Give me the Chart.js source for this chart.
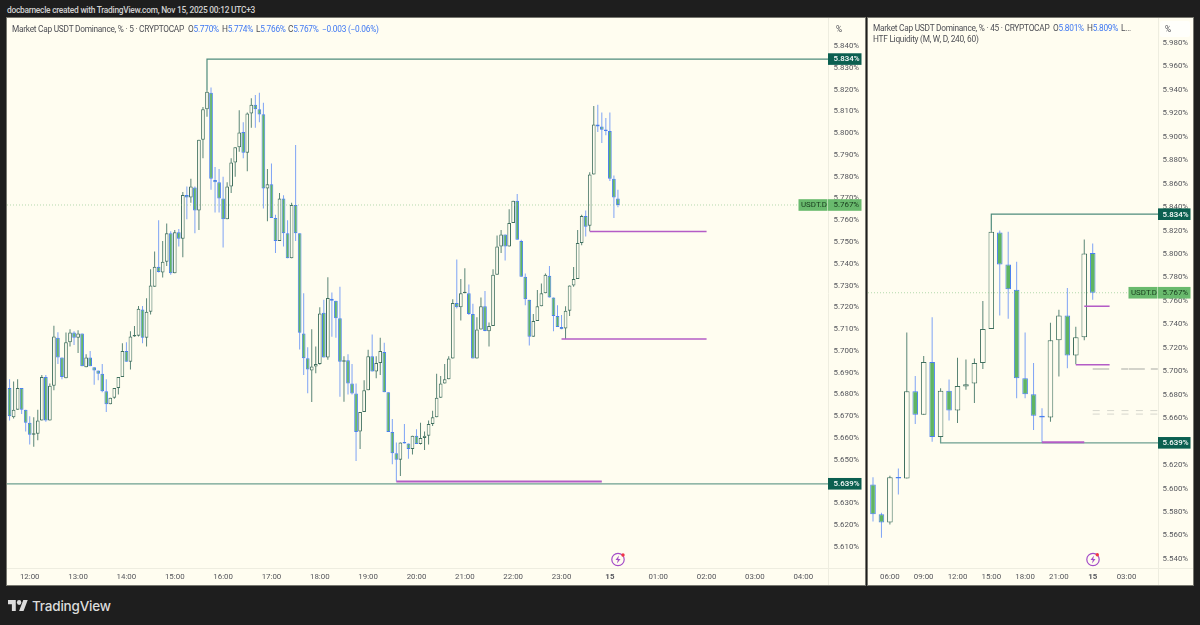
<!DOCTYPE html>
<html><head><meta charset="utf-8">
<script src="https://cdn.jsdelivr.net/npm/chart.js@4"></script>
<style>
html,body{margin:0;padding:0;background:#1e1e1e;width:1200px;height:625px;overflow:hidden}
.t{position:absolute;white-space:nowrap;font-family:Roboto,sans-serif;line-height:12px}
.panel{position:absolute;background:#fffdf0;box-shadow:0 0 0 1px #77776f}
canvas{position:absolute;left:0;top:0}
.leg{font-size:8.3px;color:#4e4f55;letter-spacing:-.25px}
.b{color:#3f78f2}
.ic{position:absolute;width:16px;height:16px}
</style></head><body>
<div class="t" style="left:7px;top:3.5px;color:#d2d2d2;font-size:8.4px;font-weight:500;letter-spacing:-.26px">docbarnecle created with TradingView.com, Nov 15, 2025 00:12 UTC+3</div>
<div class="panel" style="left:7px;top:18px;width:858px;height:567px"><canvas id="c1" width="858" height="567"></canvas></div>
<div class="panel" style="left:868px;top:18px;width:325px;height:567px"><canvas id="c2" width="325" height="567"></canvas></div>

<div class="t leg" style="left:12px;top:22.5px">Market Cap USDT Dominance, % · 5 · CRYPTOCAP</div>
<div class="t leg" style="left:188px;top:22.5px">O<span class="b">5.770%</span></div>
<div class="t leg" style="left:222px;top:22.5px">H<span class="b">5.774%</span></div>
<div class="t leg" style="left:256px;top:22.5px">L<span class="b">5.766%</span></div>
<div class="t leg" style="left:288px;top:22.5px">C<span class="b">5.767%</span></div>
<div class="t leg" style="left:322px;top:22.5px"><span class="b">−0.003 (−0.06%)</span></div>
<div class="t leg" style="left:873px;top:21.5px">Market Cap USDT Dominance, % · 45 · CRYPTOCAP</div>
<div class="t leg" style="left:1053px;top:21.5px">O<span class="b">5.801%</span></div>
<div class="t leg" style="left:1087px;top:21.5px">H<span class="b">5.809%</span></div>
<div class="t leg" style="left:1121px;top:21.5px">L...</div>
<div class="t leg" style="left:873px;top:32.5px">HTF Liquidity (M, W, D, 240, 60)</div>
<div class="t leg" style="left:836px;top:23px">%</div>
<div style="position:absolute;left:1160px;top:21px;width:30px;height:16px;background:#fffffb;border-radius:2px"></div>
<div class="t leg" style="left:1165px;top:23px">%</div>

<svg class="ic" style="left:610px;top:551px" viewBox="0 0 16 16"><circle cx="8" cy="8.5" r="6.2" fill="none" stroke="#a44cc8" stroke-width="1.2"/><path d="M9 4.5 5.5 9h2.3L7 12.5 10.5 8H8.2z" fill="#a44cc8"/><circle cx="13" cy="4" r="1.7" fill="#f23645"/></svg>
<svg class="ic" style="left:1085px;top:551px" viewBox="0 0 16 16"><circle cx="8" cy="8.5" r="6.2" fill="none" stroke="#a44cc8" stroke-width="1.2"/><path d="M9 4.5 5.5 9h2.3L7 12.5 10.5 8H8.2z" fill="#a44cc8"/><circle cx="12.3" cy="3.8" r="1.7" fill="#f23645"/></svg>

<svg style="position:absolute;left:7.5px;top:600px;width:20px;height:11px" viewBox="0 4 36 18" preserveAspectRatio="none"><path fill="#dcdcdc" d="M14 22H7V11H0V4h14v18zM28 22h-8l7.5-18h8L28 22z"/><circle fill="#dcdcdc" cx="20" cy="8" r="4"/></svg>
<div class="t" style="left:32px;top:599px;color:#dcdcdc;font:500 13.5px/14px Inter,sans-serif;letter-spacing:-.2px">TradingView</div>

<script>
// 5-minute candles, 11:35 through 00:10
const open5=[5.683,5.6695,5.673,5.683,5.673,5.667,5.6615,5.662,5.668,5.688,
5.668,5.684,5.706,5.697,5.6875,5.704,5.7085,5.706,5.708,5.6925,
5.697,5.6925,5.691,5.6895,5.6815,5.6755,5.6785,5.683,5.688,5.700,
5.695,5.7066,5.707,5.719,5.706,5.718,5.7295,5.7387,5.736,5.741,
5.754,5.7357,5.7545,5.7515,5.7716,5.7705,5.775,5.7645,5.797,5.811,
5.8185,5.7785,5.7775,5.770,5.7605,5.7755,5.7865,5.7935,5.8005,5.791,
5.809,5.813,5.811,5.8087,5.7746,5.7765,5.761,5.7505,5.770,5.754,
5.7425,5.767,5.754,5.708,5.6966,5.691,5.6928,5.694,5.7175,5.697,
5.724,5.723,5.715,5.695,5.6957,5.685,5.6805,5.663,5.672,5.682,
5.6975,5.6905,5.6945,5.6995,5.681,5.6628,5.653,5.650,5.658,5.6575,
5.655,5.661,5.6573,5.660,5.661,5.6665,5.6695,5.6785,5.685,5.687,
5.6965,5.722,5.720,5.7265,5.7265,5.717,5.6965,5.7098,5.7205,5.709,
5.7115,5.735,5.748,5.7535,5.748,5.7587,5.769,5.7505,5.734,5.7235,
5.7065,5.7137,5.7205,5.7265,5.7345,5.7245,5.716,5.711,5.7103,5.7185,
5.730,5.733,5.7495,5.762,5.7575,5.781,5.804,5.803,5.8015,5.801,
5.779,5.770];
const high5=[5.687,5.686,5.687,5.683,5.673,5.670,5.6695,5.673,5.689,5.689,
5.685,5.7116,5.7086,5.697,5.7085,5.710,5.709,5.7095,5.708,5.6985,
5.700,5.6925,5.691,5.694,5.687,5.6785,5.683,5.688,5.7035,5.704,
5.709,5.7115,5.7206,5.7206,5.7242,5.7375,5.7456,5.760,5.7505,5.7585,
5.755,5.7555,5.756,5.773,5.7755,5.779,5.7755,5.797,5.812,5.8195,
5.821,5.7845,5.7835,5.780,5.7775,5.7885,5.7935,5.8105,5.805,5.8095,
5.816,5.8175,5.8185,5.814,5.7835,5.786,5.7625,5.7725,5.7715,5.760,
5.768,5.7945,5.754,5.7265,5.7017,5.710,5.702,5.720,5.7235,5.7338,
5.7268,5.723,5.7295,5.6975,5.6985,5.694,5.685,5.672,5.6865,5.7005,
5.7075,5.6975,5.706,5.7037,5.681,5.6688,5.658,5.658,5.6665,5.6575,
5.661,5.664,5.667,5.663,5.668,5.6725,5.6895,5.6885,5.694,5.6975,
5.7237,5.742,5.733,5.738,5.7305,5.7217,5.7155,5.7245,5.7275,5.713,
5.7375,5.753,5.7555,5.7535,5.765,5.769,5.772,5.751,5.7355,5.7235,
5.717,5.728,5.731,5.7355,5.739,5.7245,5.721,5.7165,5.7205,5.730,
5.7385,5.7555,5.7625,5.7645,5.782,5.8125,5.813,5.8095,5.807,5.8095,
5.7805,5.774];
const low5=[5.668,5.669,5.673,5.671,5.663,5.657,5.656,5.659,5.668,5.6675,
5.668,5.682,5.694,5.687,5.6875,5.702,5.7027,5.699,5.693,5.6925,
5.693,5.6845,5.6865,5.681,5.672,5.6755,5.678,5.680,5.688,5.695,
5.6915,5.7065,5.7066,5.7035,5.702,5.7167,5.7295,5.736,5.7337,5.739,
5.735,5.7357,5.748,5.743,5.7605,5.768,5.754,5.7555,5.7885,5.8075,
5.774,5.7635,5.7635,5.7475,5.7605,5.7725,5.780,5.7915,5.7885,5.7825,
5.8025,5.8025,5.805,5.7654,5.7595,5.761,5.745,5.7505,5.748,5.7425,
5.7425,5.7505,5.7007,5.689,5.6806,5.6765,5.6897,5.6937,5.697,5.696,
5.7065,5.706,5.679,5.6767,5.680,5.680,5.6495,5.655,5.672,5.682,
5.6905,5.6875,5.689,5.681,5.6628,5.648,5.640,5.6426,5.6575,5.6505,
5.6525,5.6573,5.657,5.6545,5.657,5.6655,5.6695,5.6785,5.685,5.687,
5.6965,5.7195,5.714,5.7265,5.7165,5.6965,5.6965,5.7098,5.709,5.702,
5.7115,5.735,5.745,5.7415,5.748,5.7587,5.751,5.734,5.721,5.7025,
5.7065,5.7137,5.7205,5.7265,5.7245,5.709,5.711,5.710,5.7055,5.716,
5.7295,5.733,5.7485,5.7525,5.755,5.781,5.8005,5.7955,5.799,5.778,
5.761,5.766];
const close5=[5.670,5.673,5.683,5.673,5.667,5.6615,5.662,5.668,5.688,5.668,
5.684,5.7066,5.697,5.688,5.704,5.7085,5.706,5.708,5.693,5.697,
5.693,5.691,5.6895,5.6815,5.6755,5.6785,5.683,5.688,5.700,5.695,
5.7066,5.707,5.7194,5.706,5.718,5.730,5.7387,5.7362,5.741,5.754,
5.7357,5.7545,5.7515,5.7716,5.7705,5.7755,5.7645,5.797,5.811,5.819,
5.779,5.7775,5.770,5.7605,5.7755,5.7865,5.7935,5.8003,5.791,5.809,
5.813,5.811,5.8085,5.7746,5.7765,5.761,5.7505,5.770,5.754,5.7425,
5.767,5.754,5.7083,5.6966,5.6915,5.6928,5.694,5.7172,5.697,5.7243,
5.723,5.715,5.695,5.6957,5.685,5.6805,5.6628,5.672,5.682,5.6975,
5.6905,5.6945,5.700,5.681,5.6628,5.653,5.650,5.658,5.6575,5.655,
5.661,5.6573,5.660,5.661,5.6665,5.6695,5.6785,5.685,5.687,5.6965,
5.722,5.720,5.7265,5.7268,5.717,5.6965,5.7098,5.7205,5.7092,5.7115,
5.735,5.748,5.7535,5.748,5.7587,5.769,5.751,5.734,5.7237,5.7065,
5.7137,5.7205,5.7265,5.735,5.7245,5.716,5.711,5.710,5.7185,5.730,
5.733,5.7495,5.762,5.757,5.781,5.804,5.803,5.8015,5.801,5.779,
5.7705,5.767];
// 45-minute candles, 04:30 through 00:00
const open45=[5.6034,5.578,5.571,5.6095,5.6085,5.683,5.663,5.708,5.644,5.6835,5.6665,5.687,5.6895,5.707,5.736,5.8183,5.791,5.7695,5.694,5.6805,5.662,5.6605,5.7265,5.7475,5.7135,5.729,5.801];
const high45=[5.6097,5.5793,5.611,5.617,5.733,5.696,5.713,5.746,5.6855,5.693,5.7115,5.71,5.711,5.76,5.8205,5.82,5.819,5.7935,5.733,5.707,5.6685,5.7415,5.7525,5.771,5.738,5.8125,5.809];
const low45=[5.572,5.558,5.5693,5.595,5.6085,5.655,5.663,5.64,5.644,5.658,5.656,5.6843,5.673,5.702,5.736,5.7475,5.7448,5.677,5.677,5.65,5.639,5.657,5.6955,5.7025,5.706,5.7265,5.761];
const close45=[5.5781,5.571,5.6097,5.6085,5.683,5.663,5.708,5.644,5.6835,5.6665,5.6875,5.689,5.707,5.736,5.819,5.791,5.77,5.694,5.6805,5.662,5.6605,5.7265,5.7475,5.7135,5.729,5.8005,5.767];
// axis ticks: minutes from 00:00 Nov 15, and labels
const hourTicks5=[-720,-660,-600,-540,-480,-420,-360,-300,-240,-180,-120,-60,0,60,120,180,240];
const hourLabels5=["12:00","13:00","14:00","15:00","16:00","17:00","18:00","19:00","20:00","21:00","22:00","23:00","15","01:00","02:00","03:00","04:00"];
const hourTicks45=[-1080,-900,-720,-540,-360,-180,0,180];
const hourLabels45=["06:00","09:00","12:00","15:00","18:00","21:00","15","03:00"];
const priceTicks5=[5.61,5.62,5.63,5.64,5.65,5.66,5.67,5.68,5.69,5.70,5.71,5.72,5.73,5.74,5.75,5.76,5.77,5.78,5.79,5.80,5.81,5.82,5.83,5.84];
const priceTicks45=[5.54,5.56,5.58,5.60,5.62,5.64,5.66,5.68,5.70,5.72,5.74,5.76,5.78,5.80,5.82,5.84,5.86,5.88,5.90,5.92,5.94,5.96,5.98];
// levels
const lastPrice=5.767, highLevel=5.834, lowLevel=5.639;

const UP_EDGE='#41705f',UP_FILL='#fffdf0',UP_WICK='#5a8576',DN_EDGE='#4a80ee',DN_FILL='#5fb562',DN_WICK='#7ea3f5',AXIS='#eeede0';
const FONT='Roboto, sans-serif';

function panel(id,o){
  const xs=o.open.map((_,i)=>o.first+i*o.step);
  const up=i=>o.close[i]>=o.open[i];
  const idx=[...xs.keys()];
  const bars=(f,y)=>idx.filter(f).map(i=>({x:xs[i],y:y(i)}));
  const wick={type:'bar',barThickness:1,borderWidth:0,grouped:false,inflateAmount:0};
  const body={type:'bar',barThickness:o.bw,borderWidth:1,borderSkipped:false,grouped:false,inflateAmount:0,minBarLength:1.5};
  const line=(data,color,w,dash,ord)=>({type:'line',data,borderColor:color,borderWidth:w,borderDash:dash||[],pointRadius:0,tension:0,order:ord||5,fill:false});
  const ds=[
    Object.assign({},wick,{data:bars(up,i=>[o.low[i],o.high[i]]),backgroundColor:UP_WICK,order:20}),
    Object.assign({},wick,{data:bars(i=>!up(i),i=>[o.low[i],o.high[i]]),backgroundColor:DN_WICK,order:20}),
    Object.assign({},body,{data:bars(up,i=>[o.open[i],o.close[i]]),backgroundColor:UP_FILL,borderColor:UP_EDGE,order:10}),
    Object.assign({},body,{data:bars(i=>!up(i),i=>[o.close[i],o.open[i]]),backgroundColor:DN_FILL,borderColor:DN_EDGE,order:10}),
    line([{x:o.xmin,y:lastPrice},{x:o.xmax,y:lastPrice}],'rgba(120,190,120,.55)',1,[1,2]),
    line([{x:o.hiX,y:o.hiFrom},{x:o.hiX,y:highLevel},{x:o.xmax,y:highLevel}],'#4f8c7c',1.2),
    line([{x:o.loX,y:o.loFrom},{x:o.loX,y:lowLevel},{x:o.xmax,y:lowLevel}],'#6d9f90',1.3),
  ];
  o.purple.forEach(p=>ds.push(line([{x:p[0],y:p[2]},{x:p[1],y:p[2]}],'#b45cc6',p[3]||1.5,[],1)));
  (o.grey||[]).forEach(p=>ds.push(line([{x:p[0],y:p[2]},{x:p[1],y:p[2]}],'#d3d3ca',p[3],p[4])));
  const tags={id:'tags',afterDraw(c){
    const g=c.ctx,ya=c.scales.y,a=c.chartArea,left=a.right;
    g.save();
    g.fillStyle=AXIS;g.fillRect(left,a.bottom,c.width-left,1);g.fillRect(left,a.bottom,1,c.height-a.bottom);
    g.textBaseline='middle';g.textAlign='left';
    const tag=(x,w,v,txt,bg,fg,wt,pad)=>{const y=ya.getPixelForValue(v);g.fillStyle=bg;g.fillRect(x,y-5.8,w,11.6);g.fillStyle=fg;g.font=wt+' '+o.fs+'px '+FONT;g.fillText(txt,x+pad,y+.4);};
    tag(left,o.tagW,highLevel,highLevel.toFixed(3)+'%','#0b5f50','#fff','500',o.tp);
    tag(left,o.tagW,lowLevel,lowLevel.toFixed(3)+'%','#0b5f50','#fff','500',o.tp);
    tag(left,o.tagW,lastPrice,lastPrice.toFixed(3)+'%','#69ba6d','#173a1c','400',o.tp);
    tag(left-29.5,29,lastPrice,'USDT.D','#69ba6d','#173a1c','400',2.5);
    g.restore();
  }};
  return new Chart(document.getElementById(id),{
    type:'bar',data:{datasets:ds},plugins:[tags],
    options:{
      responsive:false,animation:false,devicePixelRatio:1,
      layout:{padding:0},
      plugins:{legend:{display:false},tooltip:{enabled:false}},
      scales:{
        x:{type:'linear',min:o.xmin,max:o.xmax,offset:false,
          grid:{display:false,offset:false,drawTicks:false},
          border:{display:true,color:AXIS,width:1},
          afterBuildTicks(s){s.ticks=o.hTicks.map(v=>({value:v}));},
          afterFit(s){s.height=17;s.paddingLeft=0;s.paddingRight=0;},
          ticks:{autoSkip:false,maxRotation:0,padding:4.5,color:'#55565c',
            callback:v=>o.hLabels[o.hTicks.indexOf(v)],
            font:c=>({family:FONT,size:o.fs,weight:(c.tick&&c.tick.value===0)?'700':'400'})}},
        y:{type:'linear',position:'right',min:o.ymin,max:o.ymax,
          grid:{display:false,drawTicks:false},
          border:{display:true,color:AXIS,width:1},
          afterBuildTicks(s){s.ticks=o.pTicks.map(v=>({value:v}));},
          afterFit(s){s.width=o.axisW;s.paddingTop=0;s.paddingBottom=0;},
          ticks:{autoSkip:false,padding:o.tp,color:'#55565c',
            callback:v=>v.toFixed(3)+'%',
            font:{family:FONT,size:o.fs}}}
      }
    }
  });
}

panel('c1',{open:open5,high:high5,low:low5,close:close5,first:-745,step:5,bw:3.7,
  xmin:-748.2,xmax:270.7,ymin:5.60033,ymax:5.85286,axisW:37,tagW:33.5,tp:5.5,fs:7.9,
  hTicks:hourTicks5,hLabels:hourLabels5,pTicks:priceTicks5,
  hiX:-500,hiFrom:5.8195,loX:-748.2,loFrom:lowLevel,
  purple:[[-265,-10,5.640,2],[-60,120,5.7055,1.5],[-25,120,5.7548,1.5]]});

panel('c2',{open:open45,high:high45,low:low45,close:close45,first:-1170,step:45,bw:5.6,
  xmin:-1196.6,xmax:347.7,ymin:5.53224,ymax:6.00132,axisW:35,tagW:32.5,tp:4.5,fs:7.9,
  hTicks:hourTicks45,hLabels:hourLabels45,pTicks:priceTicks45,
  hiX:-540,hiFrom:5.8205,loX:-810,loFrom:5.644,
  purple:[[-270,-45,5.6395,2],[-90,90,5.7055,1.5],[-45,90,5.7555,1.5]],
  grey:[[0,347,5.702,2,[16.5,12,7,.6,16,6,7]],[0,347,5.6665,.9,[7,7.4]],[0,347,5.6635,.9,[7,7.4]]]});
</script>
</body></html>
